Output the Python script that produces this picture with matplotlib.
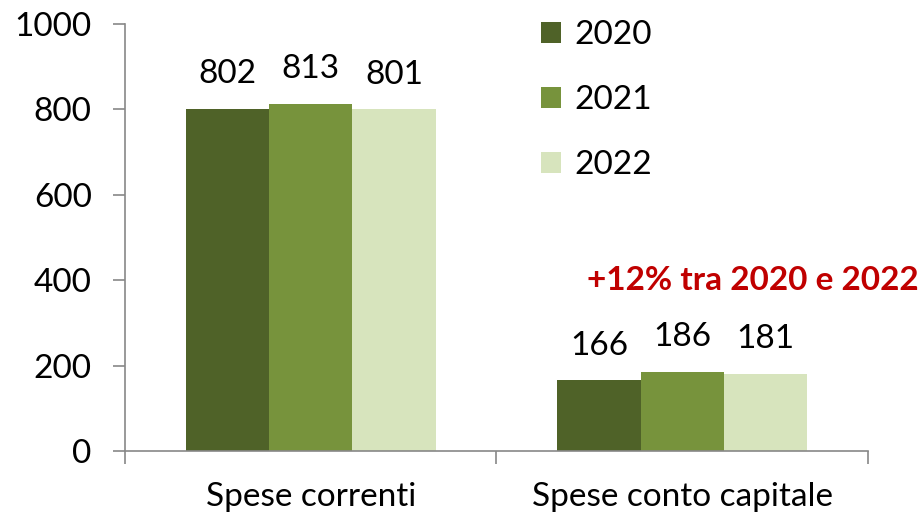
import matplotlib
matplotlib.use("Agg")
import matplotlib.pyplot as plt
import numpy as np
from matplotlib.patches import Patch

categories = ["Spese correnti", "Spese conto capitale"]
years = ["2020", "2021", "2022"]
values = {
    "2020": [802, 166],
    "2021": [813, 186],
    "2022": [801, 181],
}
colors = ["#4F6228", "#77933C", "#D7E4BD"]
yticks = [0, 200, 400, 600, 800, 1000]
note = "+12% tra 2020 e 2022"

plt.rcParams['font.family'] = ['Lato', 'DejaVu Sans']
FS = 24

fig = plt.figure(figsize=(9.24, 5.16), dpi=100)
ax = fig.add_axes([0.1353, 0.126, 0.804, 0.8275])

x = np.arange(len(categories))
w = 0.224
for i, y in enumerate(years):
    pos = x + (i - 1) * w
    ax.bar(pos, values[y], width=w, color=colors[i], label=y)
    for p, v in zip(pos, values[y]):
        ax.annotate(str(v), (p, v), xytext=(0, 14), textcoords='offset points',
                    ha='center', va='bottom', fontsize=FS)

ax.set_xlim(-0.5, 1.5)
ax.set_ylim(0, 1000)
ax.set_yticks(yticks)
ax.set_yticklabels([str(t) for t in yticks], fontsize=FS)
ax.set_xticks([-0.5, 0.5, 1.5])
ax.set_xticklabels([])
ax.set_xticks(x, minor=True)
ax.set_xticklabels(categories, minor=True, fontsize=FS)
ax.tick_params(axis='x', which='minor', length=0, pad=22)
ax.tick_params(axis='x', which='major', length=9, direction='out', color='#888888', width=1.2)
ax.tick_params(axis='y', length=9, direction='out', color='#888888', width=1.2, pad=15)
for s in ['top', 'right']:
    ax.spines[s].set_visible(False)
for s in ['left', 'bottom']:
    ax.spines[s].set_color('#888888')
    ax.spines[s].set_linewidth(1.2)

handles = [Patch(facecolor=c, label=y) for c, y in zip(colors, years)]
fig.legend(handles=handles, loc='upper left', bbox_to_anchor=(0.557, 1.012),
           frameon=False, fontsize=FS, handlelength=0.6, handleheight=0.6,
           handletextpad=0.4, labelspacing=1.05, borderaxespad=0.4)

ax.text(0.994, 0.457, note, transform=fig.transFigure, ha='right', va='center',
        fontsize=24, fontweight='bold', color='#C00000')

fig.savefig("out.png", dpi=100)
